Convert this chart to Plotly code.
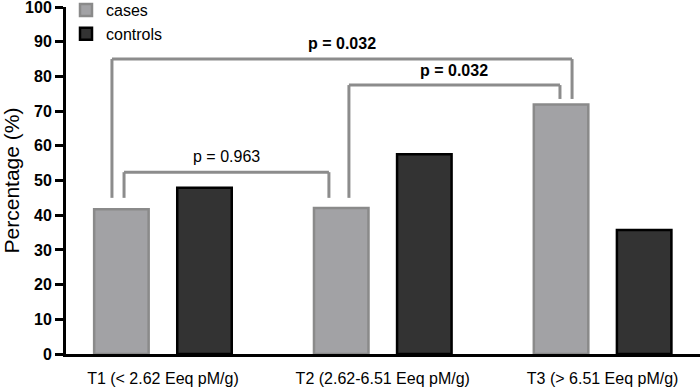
import plotly.graph_objects as go

categories = ["T1 (< 2.62 Eeq pM/g)", "T2 (2.62-6.51 Eeq pM/g)", "T3 (> 6.51 Eeq pM/g)"]
cases = [41.7, 42.1, 71.9]
controls = [47.9, 57.6, 35.7]

# brackets: (left group, right group, top y)
bracket_groups = [(0, 1, 52.4), (0, 2, 85.0), (1, 2, 77.5)]
bracket_left_offsets = [-0.177, -0.232, -0.154]
bracket_right_offsets = [-0.245, -0.139, -0.194]
bracket_bottoms_left = [45.0, 45.0, 45.0]
bracket_bottoms_right = [45.0, 73.5, 73.5]
bracket_labels = ["p = 0.963", "<b>p = 0.032</b>", "<b>p = 0.032</b>"]
label_y = [56.8, 89.6, 81.8]

fig = go.Figure()
fig.add_trace(go.Bar(name="cases", x=categories, y=cases,
                     marker=dict(color="#a2a2a5", line=dict(color="#8a8a8a", width=2.5))))
fig.add_trace(go.Bar(name="controls", x=categories, y=controls,
                     marker=dict(color="#333333", line=dict(color="#000000", width=2.5))))

gray = "#8c8c8c"
for i, (g1, g2, yt) in enumerate(bracket_groups):
    xl = g1 + bracket_left_offsets[i]
    xr = g2 + bracket_right_offsets[i]
    fig.add_shape(type="line", x0=xl, x1=xl, y0=bracket_bottoms_left[i], y1=yt,
                  xref="x", yref="y", line=dict(color=gray, width=3))
    fig.add_shape(type="line", x0=xl, x1=xr, y0=yt, y1=yt,
                  xref="x", yref="y", line=dict(color=gray, width=3))
    fig.add_shape(type="line", x0=xr, x1=xr, y0=yt, y1=bracket_bottoms_right[i],
                  xref="x", yref="y", line=dict(color=gray, width=3))
    fig.add_annotation(x=(xl + xr) / 2, y=label_y[i], text=bracket_labels[i],
                       showarrow=False, xref="x", yref="y",
                       font=dict(family="Liberation Sans, Arial", size=16, color="#000"))

fig.update_layout(
    width=700, height=389,
    margin=dict(l=66, r=0, t=7, b=35, autoexpand=False),
    plot_bgcolor="white", paper_bgcolor="white",
    barmode="group", bargap=0.244, bargroupgap=0.344,
    font=dict(family="Liberation Sans, Arial", color="#000"),
    showlegend=True,
    legend=dict(x=0.0, y=1.04, xanchor="left", yanchor="top",
                font=dict(size=16), bgcolor="rgba(0,0,0,0)",
                itemwidth=30, tracegroupgap=3),
    xaxis=dict(type="category", range=[-0.441, 2.443], showline=True, linecolor="#000",
               linewidth=3, ticks="", tickfont=dict(size=16), ticklabelstandoff=8,
               showgrid=False, zeroline=False, automargin=False),
    yaxis=dict(range=[0, 100], dtick=10, showline=True, linecolor="#000", linewidth=3,
               ticks="outside", ticklen=8, tickwidth=2.5, tickcolor="#000",
               tickfont=dict(size=16, weight="bold"), showgrid=False, zeroline=False,
               automargin=False, ticklabeloverflow="allow",
               title=dict(text="Percentage (%)", font=dict(size=21), standoff=8)),
)

fig.write_html("out.html", config={"displayModeBar": False},
               post_script="document.body.style.margin='0';document.body.style.overflow='hidden';")
